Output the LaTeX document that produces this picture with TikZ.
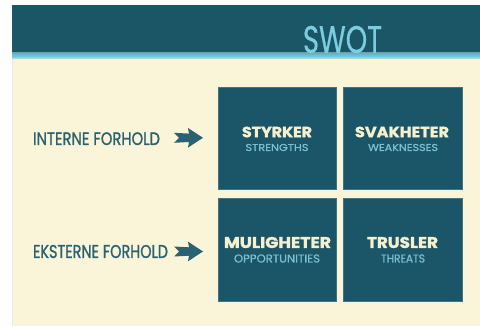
\documentclass[tikz,border=0pt]{standalone}
\usepackage{fontspec}
\setmainfont{Poppins}
\newfontfamily\medfont{Poppins}[FakeBold=1.3]
\newfontfamily\subfont{Poppins}[FakeBold=0.8]
\newfontfamily\heavyfont{Poppins}[BoldFeatures={FakeBold=1.6}]
\newfontfamily\headfont{Poppins}[FakeBold=0.6]
\usepackage{graphicx}

% palette
\definecolor{barteal}{HTML}{1A5666}
\definecolor{boxteal}{HTML}{1B5668}
\definecolor{boxedge}{HTML}{3F7484}
\definecolor{skyline}{HTML}{7CCDE0}
\definecolor{creambg}{HTML}{FAF5D8}
\definecolor{labelteal}{HTML}{2A6272}
\definecolor{titlecream}{HTML}{F6F0CF}
\definecolor{subblue}{HTML}{7BBFD4}

% text stretched to an exact width and cap height
\newcommand{\fittext}[3]{\resizebox{#1pt}{#2pt}{#3}}

\tikzset{
  quad/.style={fill=boxteal, draw=boxedge, line width=0.6pt,
               minimum width=118pt, minimum height=102pt, inner sep=0pt},
  txt/.style={inner sep=0pt, anchor=center},
  qtitle/.style={txt, text=titlecream, font=\heavyfont\bfseries},
  qsub/.style={txt, text=subblue, font=\subfont},
  sidelabel/.style={txt, text=labelteal, font=\medfont},
  pics/notcharrow/.style={code={
    \fill[labelteal] (0,-5) -- (15,-4.2) -- (14,-9.8) -- (29,0)
      -- (14,9.8) -- (15,4.2) -- (0,5) -- (5,0) -- cycle;
  }}
}

\begin{document}
\begin{tikzpicture}[x=1pt,y=-1pt]
\useasboundingbox (0,0) rectangle (480,326);

% page and header band
\fill[white] (0,0) rectangle (480,326);
\fill[creambg] (12,5) rectangle (480,326);
\draw[black!8, line width=0.8pt] (12,5) -- (12,326);
\fill[barteal] (12,5) rectangle (480,53);
\shade[top color=skyline!75!barteal, bottom color=skyline] (12,53) rectangle (480,56.5);
\shade[top color=skyline, bottom color=skyline!40!creambg] (12,56.5) rectangle (480,59);

\node[txt, text=skyline, font=\headfont] (swot) at (342.5,39.5) {\fittext{79}{27}{SWOT}};

% the four quadrants
\node[quad] (str) at (277,138) {};
\node[quad, minimum width=119pt] (weak) at (402.5,138) {};
\node[quad, minimum height=103pt] (opp) at (277,249.5) {};
\node[quad, minimum width=119pt, minimum height=103pt] (thr) at (402.5,249.5) {};

\node[qtitle] (strT) at (277,132) {\fittext{70}{10.5}{STYRKER}};
\node[qsub]   (strS) at (277,147.5) {\fittext{63}{7}{STRENGTHS}};
\node[qtitle] (weakT) at (402,132) {\fittext{94}{10.5}{SVAKHETER}};
\node[qsub]   (weakS) at (403,147.5) {\fittext{70}{7}{WEAKNESSES}};
\node[qtitle] (oppT) at (277.5,242.5) {\fittext{107}{11}{MULIGHETER}};
\node[qsub]   (oppS) at (277,258.5) {\fittext{86}{8}{OPPORTUNITIES}};
\node[qtitle] (thrT) at (402.5,242.5) {\fittext{71}{11}{TRUSLER}};
\node[qsub]   (thrS) at (403,258.5) {\fittext{44}{8}{THREATS}};

% row labels with their arrows
\node[sidelabel] (intern) at (96.5,138.7) {\fittext{127}{12.7}{INTERNE FORHOLD}};
\node[sidelabel] (extern) at (100.5,251.5) {\fittext{135}{13}{EKSTERNE FORHOLD}};
\coordinate (internArrow) at (174,137.8);
\coordinate (externArrow) at (174,251.5);
\pic at (internArrow) {notcharrow};
\pic at (externArrow) {notcharrow};
\end{tikzpicture}
\end{document}
